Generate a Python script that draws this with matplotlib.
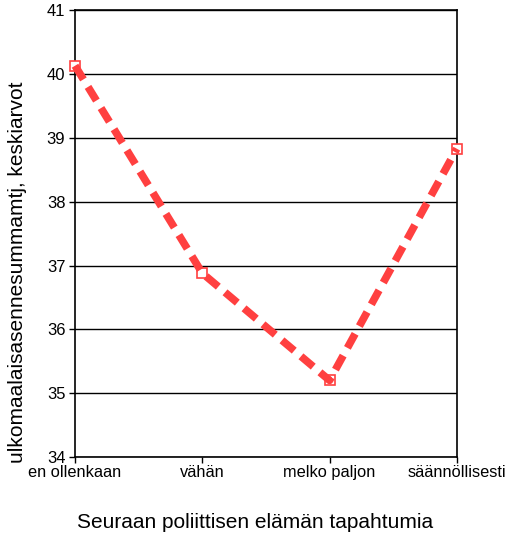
import matplotlib
matplotlib.use('Agg')
import matplotlib.pyplot as plt

# data
categories = ['en ollenkaan', 'vähän', 'melko paljon', 'säännöllisesti']
means = [40.13, 36.88, 35.2, 38.83]

plt.rcParams['font.family'] = ['Liberation Sans', 'DejaVu Sans']

W, H = 507, 537
fig = plt.figure(figsize=(W / 100, H / 100), dpi=100)
ax = fig.add_axes([0.148, 0.149, 0.753, 0.832])

x = list(range(len(categories)))
# markers below, dashed line on top
ax.plot(x, means, linestyle='none', marker='s', markersize=7,
        markerfacecolor='white', markeredgecolor='#ff4040',
        markeredgewidth=1.2, clip_on=False, zorder=3)
ax.plot(x, means, color='#ff4040', linewidth=5.5, dashes=(2.1, 1.15),
        clip_on=False, zorder=4)

ax.set_xlim(0, 3)
ax.set_ylim(34, 41)
ax.set_yticks(range(34, 42))
ax.set_xticks(x)
ax.set_xticklabels(categories, fontsize=11.8)
ax.tick_params(axis='y', labelsize=12, length=4, width=1, pad=3)
ax.tick_params(axis='x', length=4, width=1, pad=2)
ax.yaxis.grid(True, color='black', linewidth=1)
ax.set_axisbelow(True)
for s in ax.spines.values():
    s.set_linewidth(1.2)

fig.text(18 / W, 1 - 272 / H, 'ulkomaalaisasennesummamtj, keskiarvot',
         fontsize=15, rotation=90, ha='center', va='center')
fig.text(255 / W, 1 - 523 / H, 'Seuraan poliittisen elämän tapahtumia',
         fontsize=15, ha='center', va='center')

fig.savefig('out.png', dpi=100)
